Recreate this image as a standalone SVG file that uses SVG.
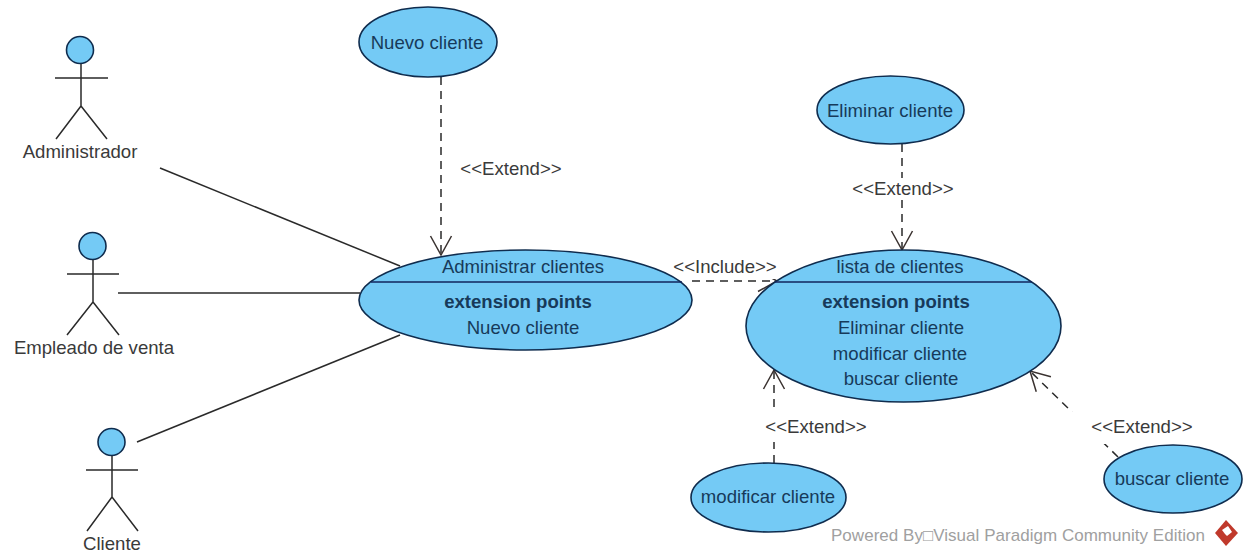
<svg xmlns="http://www.w3.org/2000/svg" width="1246" height="556" viewBox="0 0 1246 556">
<style>
text{font-family:"Liberation Sans",Arial,sans-serif;font-size:18.6px;text-anchor:middle}
.uc{fill:#74caf5;stroke:#0f2c4e;stroke-width:1.6}
.sep{stroke:#10245c;stroke-width:1.6;fill:none}
.t{fill:#173a5a}
.b{font-weight:bold}
.a{fill:#3a3a3a}
.stick{fill:none;stroke:#2a2a2a;stroke-width:1.5}
.head{fill:#74caf5;stroke:#0f2c4e;stroke-width:1.6}
.assoc{stroke:#2a2a2a;stroke-width:1.5;fill:none}
.dash{stroke:#2a2a2a;stroke-width:1.5;fill:none;stroke-dasharray:8 6;marker-end:url(#open)}
.lb{fill:#fff}
.wm{fill:#a0a0a0;font-size:17px}
</style>
<defs>
<marker id="open" markerUnits="userSpaceOnUse" markerWidth="26" markerHeight="28" refX="22" refY="13" orient="auto" overflow="visible">
<path d="M3 2.5L22 13L3 23.5" fill="none" stroke="#3a3230" stroke-width="1.5" stroke-dasharray="none"/>
</marker>
</defs>
<rect width="1246" height="556" fill="#fff"/>
<g id="connectors">
<path class="assoc" d="M160 168L400 266"/>
<path class="assoc" d="M118 293L360 293"/>
<path class="assoc" d="M137 442L400 335"/>
<path class="dash" d="M441 77L441 255"/>
<path class="dash" d="M902 144L902 250"/>
<path class="dash" d="M774 463L774 370"/>
<path class="dash" d="M1118 457L1030 371"/>
<path class="dash" d="M692 281L777 281"/>
<rect class="lb" x="456" y="156" width="110" height="24"/><text class="a" x="511" y="175">&lt;&lt;Extend&gt;&gt;</text>
<rect class="lb" x="850" y="178" width="106" height="22"/><text class="a" x="903" y="195">&lt;&lt;Extend&gt;&gt;</text>
<rect class="lb" x="763" y="410" width="106" height="32"/><text class="a" x="816" y="433">&lt;&lt;Extend&gt;&gt;</text>
<rect class="lb" x="1066" y="412" width="131" height="32"/><text class="a" x="1142" y="433">&lt;&lt;Extend&gt;&gt;</text>
<rect class="lb" x="672" y="258" width="106" height="21"/><text class="a" x="725" y="273">&lt;&lt;Include&gt;&gt;</text>
</g>
<g id="actor-administrador">
<circle class="head" cx="80" cy="50" r="13.5"/>
<path class="stick" d="M81 64V106M55 78H108M81 106L56 139M81 106L107 139"/>
<text class="a" x="80" y="158">Administrador</text>
</g>
<g id="actor-empleado">
<circle class="head" cx="92.5" cy="246" r="13.5"/>
<path class="stick" d="M93 260V302M67 274H119M93 302L67 335M93 302L119 335"/>
<text class="a" x="94" y="354">Empleado de venta</text>
</g>
<g id="actor-cliente">
<circle class="head" cx="111.500" cy="442" r="13.5"/>
<path class="stick" d="M112 456V497M86 470H138M112 497L87 531M112 497L138 531"/>
<text class="a" x="112" y="550">Cliente</text>
</g>
<g id="uc-nuevo">
<ellipse class="uc" cx="428" cy="42" rx="69" ry="35"/>
<text class="t" x="427" y="49">Nuevo cliente</text>
</g>
<g id="uc-administrar">
<ellipse class="uc" cx="525.500" cy="300" rx="166.500" ry="50"/>
<path class="sep" d="M371 282H682"/>
<text class="t" x="523" y="273">Administrar clientes</text>
<text class="t b" x="518" y="308">extension points</text>
<text class="t" x="523" y="334">Nuevo cliente</text>
</g>
<g id="uc-lista">
<ellipse class="uc" cx="903.500" cy="326" rx="157.500" ry="76"/>
<path class="sep" d="M775 282H1032"/>
<text class="t" x="900" y="273">lista de clientes</text>
<text class="t b" x="896" y="308">extension points</text>
<text class="t" x="901" y="334">Eliminar cliente</text>
<text class="t" x="900" y="360">modificar cliente</text>
<text class="t" x="901" y="385">buscar cliente</text>
</g>
<g id="uc-eliminar">
<ellipse class="uc" cx="890.500" cy="110" rx="73.500" ry="34"/>
<text class="t" x="890" y="117">Eliminar cliente</text>
</g>
<g id="uc-modificar">
<ellipse class="uc" cx="768.500" cy="497.500" rx="77.500" ry="34.500"/>
<text class="t" x="768" y="503">modificar cliente</text>
</g>
<g id="uc-buscar">
<ellipse class="uc" cx="1173" cy="479" rx="69" ry="34"/>
<text class="t" x="1172" y="485">buscar cliente</text>
</g>
<g id="watermark">
<text class="wm" x="1018" y="541" textLength="374">Powered By□Visual Paradigm Community Edition</text>
<path d="M1226 520L1238 533L1226 546L1215 533Z" fill="#c0392b"/>
<path d="M1222 530L1228 526L1232 532L1227 536L1225 534Z" fill="#fff"/>
</g>
</svg>
